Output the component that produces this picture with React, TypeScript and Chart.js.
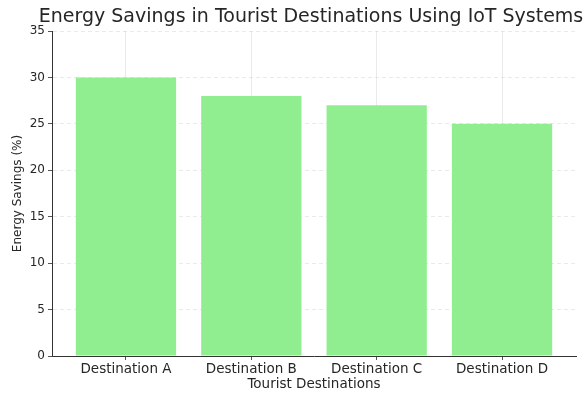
import React, { useEffect, useRef } from "react";
import { Chart, registerables } from "chart.js";

Chart.register(...registerables);

const categories = ["Destination A", "Destination B", "Destination C", "Destination D"];
const savings = [30, 28, 27, 25];
const yTicks = [0, 5, 10, 15, 20, 25, 30, 35];
const chartTitle = "Energy Savings in Tourist Destinations Using IoT Systems";

const FONT = "'DejaVu Sans', sans-serif";
const TEXT = "#262626";
const GRID = "rgba(170,170,170,0.25)";

const titlePlugin = {
  id: "centeredTitle",
  afterDraw(chart: any) {
    const { ctx, chartArea } = chart;
    ctx.save();
    ctx.font = `19px ${FONT}`;
    ctx.fillStyle = TEXT;
    ctx.textAlign = "center";
    ctx.textBaseline = "middle";
    ctx.fillText(chartTitle, (chartArea.left + chartArea.right) / 2 - 3, 17);
    ctx.restore();
  },
};

export default function App() {
  const ref = useRef<HTMLCanvasElement | null>(null);

  useEffect(() => {
    document.body.style.margin = "0";
    const canvas = ref.current;
    if (!canvas) return;
    const chart = new Chart(canvas, {
      type: "bar",
      data: {
        datasets: [
          {
            label: "Energy Savings (%)",
            data: savings.map((v, i) => ({ x: i, y: v })),
            backgroundColor: "#90EE90",
            borderWidth: 0,
            barPercentage: 0.8,
            categoryPercentage: 1,
          },
        ],
      },
      options: {
        responsive: false,
        animation: false,
        devicePixelRatio: 1,
        layout: { padding: { left: 0, right: 9, top: 31, bottom: 0 } },
        plugins: {
          legend: { display: false },
          tooltip: { enabled: false },
          title: { display: false },
        },
        scales: {
          x: {
            type: "linear",
            min: -0.59,
            max: 3.59,
            offset: false,
            z: 1,
            afterBuildTicks: (scale: any) => {
              scale.ticks = categories.map((_, i) => ({ value: i }));
            },
            afterFit: (scale: any) => {
              scale.height = 40;
            },
            ticks: {
              callback: (v: any) => categories[v as number] ?? "",
              color: TEXT,
              font: { family: FONT, size: 13.5 },
              padding: 1,
              maxRotation: 0,
              autoSkip: false,
            },
            grid: {
              offset: false,
              color: GRID,
              lineWidth: 1,
              tickLength: 4,
              tickColor: "#555",
            },
            border: { display: true, color: "#333", width: 1 },
            title: {
              display: true,
              text: "Tourist Destinations",
              color: TEXT,
              font: { family: FONT, size: 13.5 },
              padding: { top: 0, bottom: 3 },
            },
          },
          y: {
            min: 0,
            max: 35,
            z: 1,
            afterBuildTicks: (scale: any) => {
              scale.ticks = yTicks.map((v) => ({ value: v }));
            },
            afterFit: (scale: any) => {
              scale.width = 52;
            },
            ticks: {
              color: TEXT,
              font: { family: FONT, size: 12 },
              padding: 3,
            },
            grid: {
              color: GRID,
              lineWidth: 1,
              tickLength: 4,
              tickColor: "#555",
              tickBorderDash: [],
            },
            border: { display: true, color: "#333", width: 1, dash: [4, 3] },
            title: {
              display: true,
              text: "Energy Savings (%)",
              color: TEXT,
              font: { family: FONT, size: 12 },
              padding: { top: 11, bottom: 0 },
            },
          },
        },
      } as any,
      plugins: [titlePlugin],
    });
    return () => chart.destroy();
  }, []);

  return (
    <div style={{ width: 585, height: 396, background: "#fff" }}>
      <canvas ref={ref} width={585} height={396} />
    </div>
  );
}
